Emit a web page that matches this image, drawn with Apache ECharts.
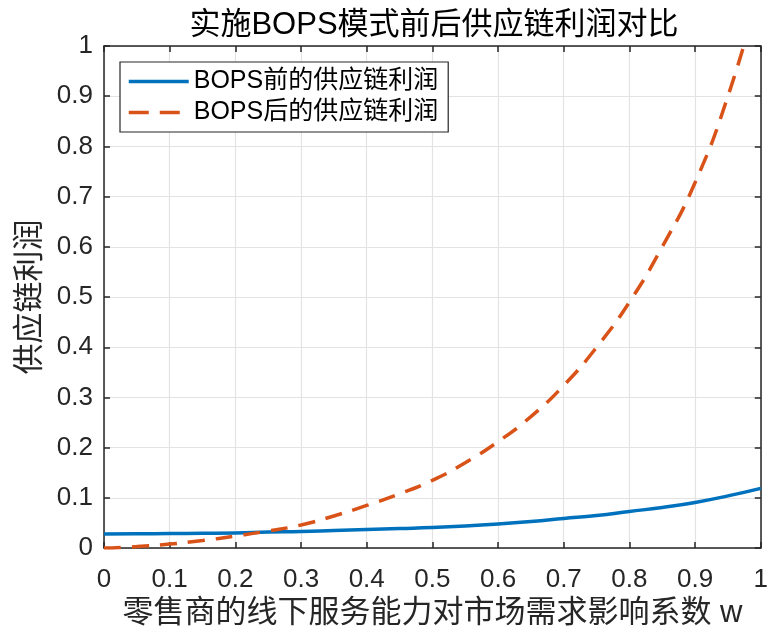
<!DOCTYPE html>
<html>
<head>
<meta charset="utf-8">
<script src="https://cdn.jsdelivr.net/npm/echarts@6/dist/echarts.min.js"></script>
<style>
html,body{margin:0;padding:0;background:#fff;}
#chart{width:771px;height:634px;}
</style>
</head>
<body>
<div id="chart"></div>
<script>
var wValues = [0,0.05,0.1,0.15,0.2,0.25,0.3,0.35,0.4,0.45,0.5,0.55,0.6,0.65,0.7,0.75,0.8,0.85,0.9,0.95,1.0];
var profitBefore = [0.028,0.0285,0.029,0.0295,0.030,0.032,0.033,0.035,0.037,0.039,0.041,0.044,0.048,0.053,0.059,0.065,0.073,0.081,0.091,0.104,0.119];
var profitAfter = [0,0.003,0.008,0.015,0.024,0.034,0.046,0.064,0.085,0.108,0.135,0.17,0.212,0.262,0.324,0.400,0.49,0.60,0.728,0.90,1.12];
var seriesNames = ['BOPS前的供应链利润','BOPS后的供应链利润'];
var chartTitle = '实施BOPS模式前后供应链利润对比';
var xName = '零售商的线下服务能力对市场需求影响系数 w';
var yName = '供应链利润';

function pairs(xs, ys){ return xs.map(function(x,i){ return [x, ys[i]]; }); }

var FONT = 'Liberation Sans, Arial, "Noto Sans CJK SC", sans-serif';
var axisColor = '#262626';
var gridColor = '#e3e3e3';

var chart = echarts.init(document.getElementById('chart'), null, {renderer:'canvas'});
var baseX = {
  type:'value', min:0, max:1, interval:0.1,
  axisLine:{show:true, onZero:false, lineStyle:{color:axisColor, width:1.5}},
  axisTick:{show:true, inside:true, length:6, lineStyle:{color:axisColor, width:1.5}},
  splitLine:{show:false}
};
var option = {
  animation:false,
  backgroundColor:'#fff',
  grid:{left:104, right:6, top:46, bottom:84, containLabel:false},
  graphic:[{
    type:'text', x:434, y:25,
    style:{text:chartTitle, fill:'#000', font:'31px ' + FONT, textAlign:'center', textVerticalAlign:'middle'}
  }],
  legend:{
    orient:'vertical', left:120, top:62,
    data:[
      {name:seriesNames[0]},
      {name:seriesNames[1], lineStyle:{type:[20,11]}}
    ],
    itemWidth:60, itemHeight:25, itemGap:6,
    padding:[7,10,7,7],
    backgroundColor:'#fff', borderColor:axisColor, borderWidth:1.2,
    itemStyle:{opacity:0},
    lineStyle:{width:3.5},
    textStyle:{fontSize:25, color:'#000', fontFamily:FONT, lineHeight:25}
  },
  xAxis:[
    Object.assign({}, baseX, {
      position:'bottom',
      name:xName, nameLocation:'middle', nameGap:46,
      nameTextStyle:{fontSize:31, color:'#262626', fontFamily:FONT},
      axisLabel:{show:true, margin:19, fontSize:26, color:'#262626', fontFamily:FONT},
      splitLine:{show:true, lineStyle:{color:gridColor, width:1.2}}
    }),
    Object.assign({}, baseX, {position:'top', axisLabel:{show:false}})
  ],
  yAxis:[
    Object.assign({}, baseX, {
      position:'left',
      name:yName, nameLocation:'middle', nameGap:58, nameRotate:90,
      nameTextStyle:{fontSize:31, color:'#262626', fontFamily:FONT},
      axisLabel:{show:true, margin:11, fontSize:26, color:'#262626', fontFamily:FONT},
      splitLine:{show:true, lineStyle:{color:gridColor, width:1.2}}
    }),
    Object.assign({}, baseX, {position:'right', axisLabel:{show:false}})
  ],
  series:[
    {
      name:seriesNames[0], type:'line', smooth:true, showSymbol:false, symbol:'none',
      data:pairs(wValues, profitBefore),
      lineStyle:{color:'#0072BD', width:3.5},
      itemStyle:{color:'#0072BD'},
      clip:true
    },
    {
      name:seriesNames[1], type:'line', smooth:true, showSymbol:false, symbol:'none',
      data:pairs(wValues, profitAfter),
      lineStyle:{color:'#D95319', width:3.5, type:[17,11]},
      itemStyle:{color:'#D95319'},
      clip:true
    }
  ]
};
chart.setOption(option);
</script>
</body>
</html>
